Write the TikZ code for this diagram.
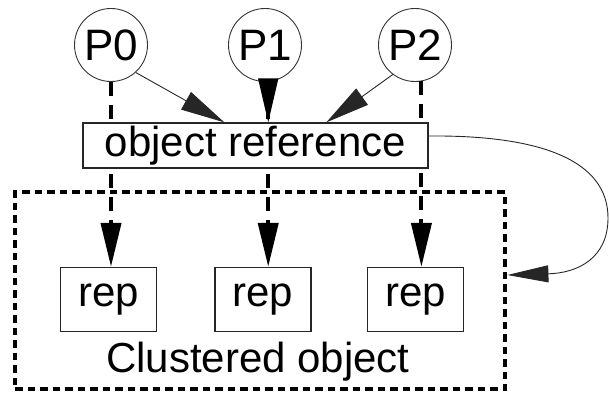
\documentclass[tikz,border=0pt]{standalone}
\usepackage{fontspec}
\setmainfont{Liberation Sans}
\usetikzlibrary{arrows.meta,calc}

\tikzset{
  lbl/.style={font=\fontsize{42}{48}\selectfont},
  proc/.style={circle, draw=black!80, line width=0.9pt, minimum size=73pt, inner sep=0pt, fill=white,
               font=\fontsize{44}{50}\selectfont},
  refbox/.style={rectangle, draw=black!85, line width=1.3pt, fill=white, inner sep=0pt, lbl},
  repbox/.style={rectangle, draw=black!85, line width=1.3pt, fill=white, inner sep=0pt,
                 minimum width=96pt, minimum height=64pt, lbl},
  cluster/.style={rectangle, draw, line width=4.8pt, dash pattern=on 7.5pt off 5pt,
                  minimum width=490pt, minimum height=197pt, inner sep=0pt},
  bighead/.style={-{Triangle[length=44pt,width=20pt]}},
  thinarrow/.style={bighead, line width=0.9pt, draw=black!85},
  repline/.style={bighead, line width=4pt, dash pattern=on 14pt off 9pt},
}

\begin{document}
\begin{tikzpicture}[x=1pt, y=-1pt]
  \useasboundingbox (0,0) rectangle (609,393);

  % clustered object frame and its caption
  \node[cluster] (clu) at (260,290.5) {};
  \node[lbl, anchor=base] (clabel) at (258,372) {Clustered object};

  % processors
  \node[proc] (P0) at (111,45) {P0};
  \node[proc] (P1) at (265,45) {P1};
  \node[proc] (P2) at (415,45) {P2};

  % replicas
  \node[repbox] (rep0) at (108.5,299.5) {rep};
  \node[repbox] (rep1) at (263,299.5) {rep};
  \node[repbox] (rep2) at (415.5,299.5) {rep};

  % each processor reaches its own replica
  \draw[repline] (P0.south) -- (P0.south |- rep0.north);
  \draw[repline] (P1.-85) -- (P1.-85 |- rep1.north);
  \draw[repline] (P2.-80) -- (P2.-80 |- rep2.north);

  % shared object reference sits above the dashed lines
  \node[refbox, minimum width=345pt, minimum height=45pt] (oref) at (255.5,145.5) {object reference};

  % processors hold the object reference
  \draw[thinarrow] (P0.-48) -- ($(oref.north west)+(142,0)$);
  \draw[bighead, line width=1.5pt] (P1.-85) -- (P1.-85 |- oref.north);
  \draw[thinarrow] (P2.-127) -- ($(oref.north west)+(244,0)$);

  % reference resolves to the clustered object
  \draw[thinarrow, -{Triangle[length=41pt,width=17pt]}]
    ($(oref.east)+(0,-9.5)$) .. controls (540,135) and (608,160) ..
    (608,218) .. controls (608,258) and (578,273) ..
    ($(clu.east)+(0,-15.5)$);
\end{tikzpicture}
\end{document}
